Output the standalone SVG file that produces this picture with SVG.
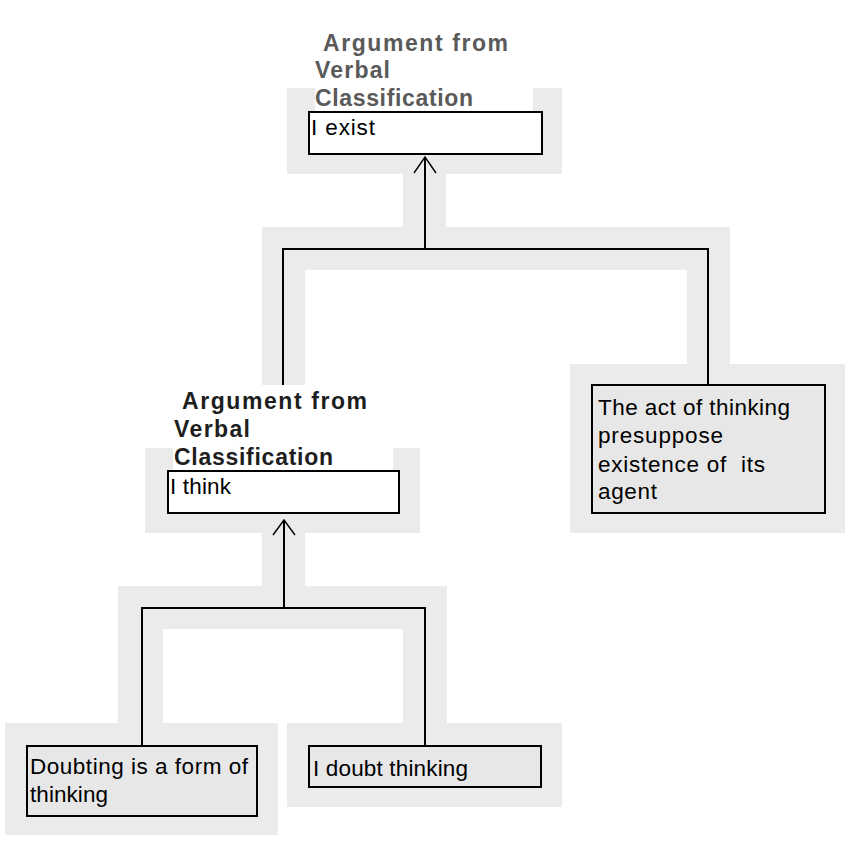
<svg xmlns="http://www.w3.org/2000/svg" width="850" height="867" viewBox="0 0 850 867">
<style>
.halo{fill:#ebebeb}
.lbg{fill:#ffffff}
.box{stroke:#000;stroke-width:2}
.w{fill:#ffffff}
.g{fill:#e7e7e7}
.t{font-family:"Liberation Sans",Arial,sans-serif;font-size:22.5px;fill:#000;white-space:pre}
.h{font-family:"Liberation Sans",Arial,sans-serif;font-size:23px;font-weight:bold}
.h1{fill:#5a5a5a}
.h2{fill:#1e1e1e}
.c{fill:none;stroke:#000;stroke-width:2}
.a{fill:none;stroke:#000;stroke-width:1.4}
</style>
<rect width="850" height="867" fill="#fff"/>
<g id="halos">
<rect class="halo" x="287" y="88" width="275" height="86"/>
<rect class="halo" x="403" y="174" width="43" height="53"/>
<rect class="halo" x="262" y="227" width="468" height="43"/>
<rect class="halo" x="262" y="270" width="43" height="115"/>
<rect class="halo" x="687" y="270" width="43" height="94"/>
<rect class="halo" x="570" y="364" width="275" height="169"/>
<rect class="halo" x="145" y="448" width="275" height="85"/>
<rect class="halo" x="262" y="533" width="43" height="53"/>
<rect class="halo" x="118" y="586" width="329" height="43"/>
<rect class="halo" x="118" y="629" width="45" height="94"/>
<rect class="halo" x="403" y="629" width="44" height="94"/>
<rect class="halo" x="5" y="723" width="273" height="112"/>
<rect class="halo" x="287" y="723" width="275" height="84"/>
</g>
<g id="connectors">
<polyline class="c" points="283,385 283,249 708,249 708,385"/>
<line class="c" x1="425" y1="249" x2="425" y2="157"/>
<polyline class="a" points="414,173 425,157 436,173"/>
<polyline class="c" points="142,746 142,608 425,608 425,746"/>
<line class="c" x1="284" y1="608" x2="284" y2="520"/>
<polyline class="a" points="273,535 284,520 295,535"/>
</g>
<g id="node-i-exist">
<rect class="lbg" x="315" y="20" width="218" height="92"/>
<text class="h h1" x="323" y="51" textLength="185" lengthAdjust="spacing">Argument from</text>
<text class="h h1" x="315" y="78" textLength="75" lengthAdjust="spacing">Verbal</text>
<text class="h h1" x="315" y="106" textLength="158" lengthAdjust="spacing">Classification</text>
<rect class="box w" x="309" y="112" width="233" height="42"/>
<text class="t" x="311" y="135" textLength="64" lengthAdjust="spacing">I exist</text>
</g>
<g id="node-act-of-thinking">
<rect class="box g" x="592" y="385" width="233" height="128"/>
<text class="t" x="598" y="415" textLength="192" lengthAdjust="spacing">The act of thinking</text>
<text class="t" x="598" y="443" textLength="125" lengthAdjust="spacing">presuppose</text>
<text class="t" x="598" y="472" textLength="167" lengthAdjust="spacing">existence of  its</text>
<text class="t" x="598" y="499" textLength="59" lengthAdjust="spacing">agent</text>
</g>
<g id="node-i-think">
<rect class="lbg" x="173" y="385" width="220" height="86"/>
<text class="h h2" x="182" y="409" textLength="185" lengthAdjust="spacing">Argument from</text>
<text class="h h2" x="174" y="437" textLength="76" lengthAdjust="spacing">Verbal</text>
<text class="h h2" x="174" y="465" textLength="159" lengthAdjust="spacing">Classification</text>
<rect class="box w" x="168" y="471" width="231" height="42"/>
<text class="t" x="170" y="494" textLength="61" lengthAdjust="spacing">I think</text>
</g>
<g id="node-doubting">
<rect class="box g" x="27" y="746" width="230" height="70"/>
<text class="t" x="30" y="774" textLength="218" lengthAdjust="spacing">Doubting is a form of</text>
<text class="t" x="30" y="802" textLength="78" lengthAdjust="spacing">thinking</text>
</g>
<g id="node-i-doubt">
<rect class="box g" x="309" y="746" width="232" height="41"/>
<text class="t" x="313" y="776" textLength="155" lengthAdjust="spacing">I doubt thinking</text>
</g>
</svg>
